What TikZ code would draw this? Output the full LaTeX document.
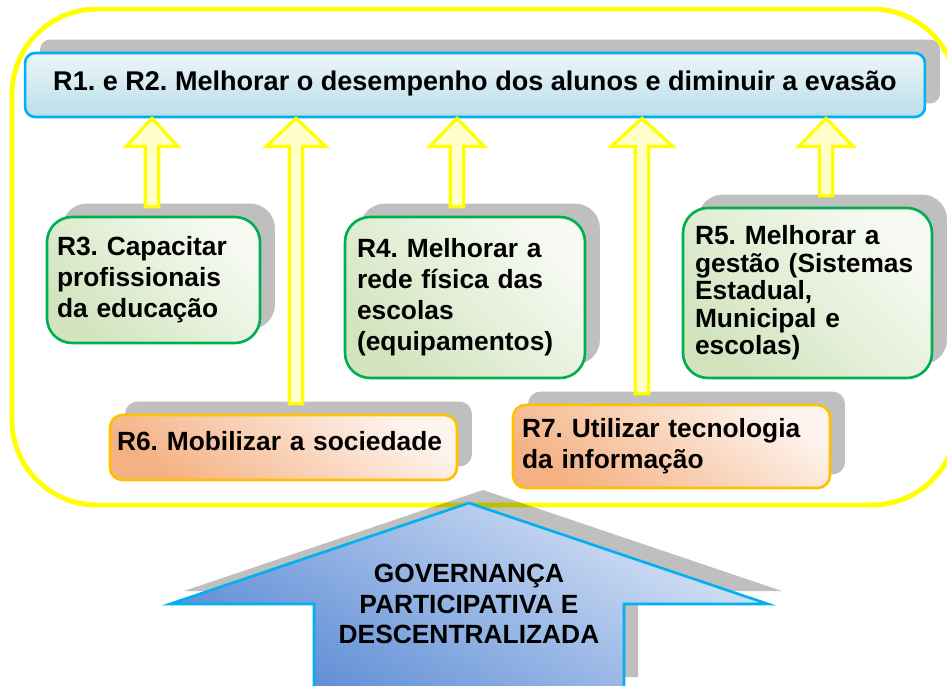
\documentclass[tikz,border=0pt]{standalone}
\usepackage{fontspec}
\setmainfont{Liberation Sans}
\usetikzlibrary{positioning, calc, shadows}
\frenchspacing
\definecolor{FrameYellow}{HTML}{FFFF00}
\definecolor{ArrowFill}{HTML}{FFFFCC}
\definecolor{ShadowGray}{HTML}{BFBFBF}
\definecolor{GoalBorder}{HTML}{00B0F0}
\definecolor{GoalTop}{HTML}{ECF6FA}
\definecolor{GoalBottom}{HTML}{BBDDE9}
\definecolor{GreenBorder}{HTML}{00B050}
\definecolor{GreenLight}{HTML}{F7FAF3}
\definecolor{GreenDark}{HTML}{D2E4BE}
\definecolor{OrangeBorder}{HTML}{FFC000}
\definecolor{OrangeLight}{HTML}{FEF4EE}
\definecolor{OrangeDark}{HTML}{F4B183}
\definecolor{GovLight}{HTML}{D9E5F6}
\definecolor{GovDark}{HTML}{5B8BD5}

\tikzset{
  box/.style={line width=1.5pt, font=\bfseries\fontsize{15}{17.6}\selectfont,
    drop shadow={shadow xshift=0.3cm, shadow yshift=0.27cm, fill=ShadowGray, opacity=1}},
  goalbox/.style={box, draw=GoalBorder, rounded corners=0.2cm,
    bottom color=GoalBottom, top color=GoalTop},
  greenbox/.style={box, draw=GreenBorder, rounded corners=0.5cm, align=left,
    bottom color=GreenDark, top color=GreenLight, shading angle=-45},
  orangebox/.style={box, draw=OrangeBorder, rounded corners=0.25cm, align=left,
    bottom color=OrangeDark, top color=OrangeLight, shading angle=-35},
  liftarrow/.style={draw=FrameYellow, fill=ArrowFill, line width=1.8pt},
  frame/.style={draw=FrameYellow, line width=2.8pt, rounded corners=1.7cm},
}

% yellow block arrow: base, tip, head half width
\newcommand{\liftarrow}[3]{%
  \draw[liftarrow] let \p1=(#1), \p2=(#2) in
    (\x1-3.8pt,\y1) -- (\x1-3.8pt,\y2-16pt) -- (\x1-#3,\y2-16pt) -- (\x1,\y2)
    -- (\x1+#3,\y2-16pt) -- (\x1+3.8pt,\y2-16pt) -- (\x1+3.8pt,\y1) -- cycle;}

\begin{document}
\begin{tikzpicture}[x=0.02cm, y=-0.02cm]
  \useasboundingbox (0,0) rectangle (947,686);
  \clip (0,0) rectangle (947,686);
  % outer frame
  \draw[frame] (12,9) rectangle (957,505);
  % goal
  \node[goalbox, minimum width=18cm, minimum height=1.28cm, text depth=5pt,
    font=\bfseries\fontsize{15.4}{17.6}\selectfont] (R1) at (475,85)
    {R1. e R2. Melhorar o desempenho dos alunos e diminuir a evasão};
  % results
  \node[greenbox, inner xsep=0.2cm, text width=3.86cm, minimum height=2.52cm] (R3) at (153.5,280)
    {R3. Capacitar\\profissionais\\da educação};
  \node[greenbox, inner xsep=0.24cm, text width=4.32cm, minimum height=3.22cm] (R4) at (465,297.5)
    {R4. Melhorar a\\rede física das\\escolas\\(equipamentos)};
  \node[greenbox, inner xsep=0.24cm, text width=4.5cm, minimum height=3.4cm,
    font=\bfseries\fontsize{15}{15.6}\selectfont] (R5) at (807.5,293)
    {R5. Melhorar a\\gestão (Sistemas\\Estadual,\\Municipal e\\escolas)};
  \node[orangebox, inner xsep=0.14cm, text width=6.66cm, minimum height=1.3cm, text depth=8pt] (R6) at (283.5,447.5)
    {R6. Mobilizar a sociedade};
  \node[orangebox, inner xsep=0.18cm, text width=5.98cm, minimum height=1.66cm] (R7) at (671.5,446.5)
    {R7. Utilizar tecnologia\\da informação};
  % arrow bases
  \coordinate (a1) at ($(R3.north)+(-1.5,-9)$);
  \coordinate (a2) at ($(R6.north)+(12.5,-10)$);
  \coordinate (a3) at ($(R4.north)+(-8,-9)$);
  \coordinate (a4) at ($(R7.north)+(-29.5,-10)$);
  \coordinate (a5) at ($(R5.north)+(18.5,-11)$);
  \liftarrow{a1}{a1 |- R1.south}{14.7pt}
  \liftarrow{a2}{a2 |- R1.south}{17pt}
  \liftarrow{a3}{a3 |- R1.south}{15.5pt}
  \liftarrow{a4}{a4 |- R1.south}{17.5pt}
  \liftarrow{a5}{a5 |- R1.south}{15.5pt}
  % governance arrow
  \fill[ShadowGray, blend mode=multiply, shift={(14,-13)}]
    (469,503) -- (768,604) -- (624,604) -- (624,690) -- (314,690) -- (314,604) -- (170,604) -- cycle;
  \draw[GoalBorder, line width=1.5pt, bottom color=GovDark, top color=GovLight, shading angle=-30]
    (469,503) -- (768,604) -- (624,604) -- (624,690) -- (314,690) -- (314,604) -- (170,604) -- cycle;
  \node[font=\bfseries\fontsize{15}{17.6}\selectfont, align=center] (gov) at (469,604)
    {GOVERNANÇA\\PARTICIPATIVA E\\DESCENTRALIZADA};
\end{tikzpicture}
\end{document}
